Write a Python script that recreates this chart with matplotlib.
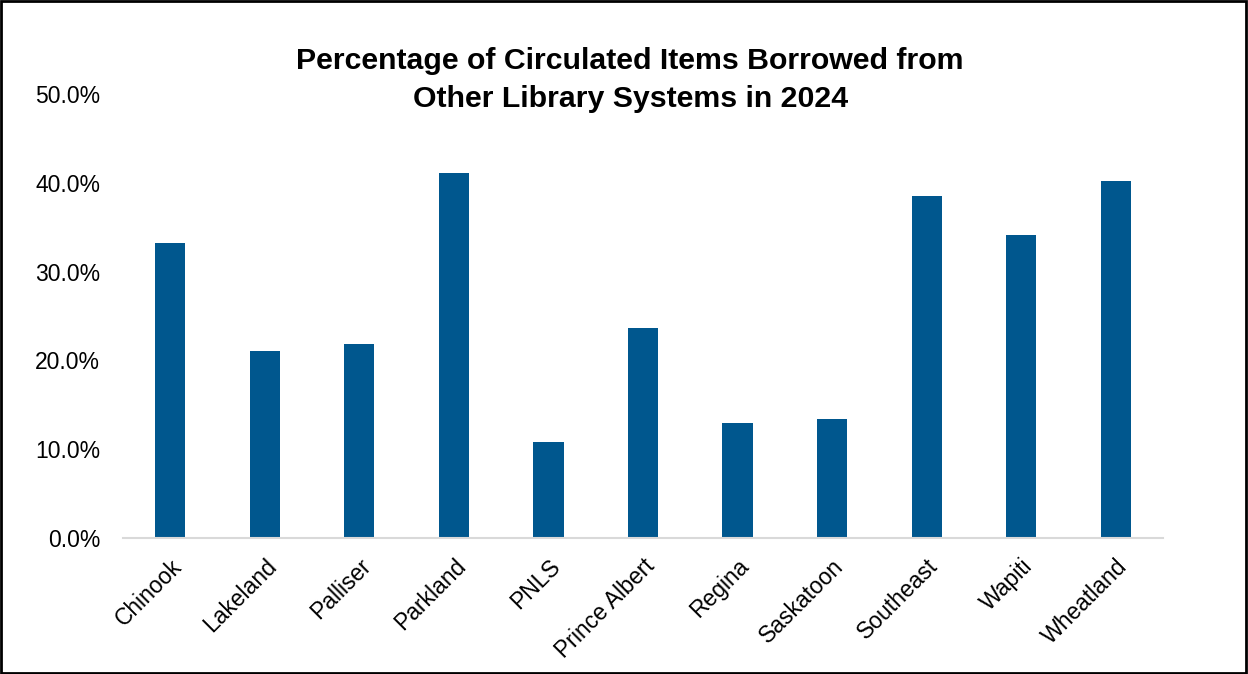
import matplotlib.pyplot as plt
from matplotlib.patches import Rectangle
from matplotlib.ticker import FuncFormatter

plt.rcParams['font.family'] = ['Liberation Sans', 'DejaVu Sans']

# Data
systems = ['Chinook', 'Lakeland', 'Palliser', 'Parkland', 'PNLS', 'Prince Albert',
           'Regina', 'Saskatoon', 'Southeast', 'Wapiti', 'Wheatland']
share = [0.332, 0.211, 0.218, 0.411, 0.108, 0.236, 0.130, 0.134, 0.385, 0.341, 0.402]
yticks = [0.0, 0.1, 0.2, 0.3, 0.4, 0.5]

fig = plt.figure(figsize=(12.48, 6.74), dpi=100)
ax = fig.add_axes([123 / 1248, 1 - 538 / 674, 1040 / 1248, 444 / 674])

ax.bar(range(len(systems)), share, width=0.32, color='#00578e')
ax.set_xlim(-0.5, len(systems) - 0.5)
ax.set_ylim(0, 0.5)

ax.set_yticks(yticks)
ax.yaxis.set_major_formatter(FuncFormatter(lambda v, p: f'{v * 100:.1f}%'))
ax.set_xticks(range(len(systems)))
ax.set_xticklabels(systems, rotation=45, ha='right', rotation_mode='anchor')
ax.tick_params(axis='both', length=0, labelsize=16.5, colors='black')
ax.tick_params(axis='x', pad=12)
ax.tick_params(axis='y', pad=16.5)

for side in ['top', 'right', 'left']:
    ax.spines[side].set_visible(False)
ax.spines['bottom'].set_color('#d9d9d9')
ax.spines['bottom'].set_linewidth(1.5)

fig.text(0.505, 0.931, 'Percentage of Circulated Items Borrowed from\nOther Library Systems in 2024',
         ha='center', va='top', fontsize=21.8, fontweight='bold', linespacing=1.48)

# black frame around the whole picture
fig.patches.append(Rectangle((0.001, 0.002), 0.997, 0.997, transform=fig.transFigure,
                             fill=False, edgecolor='black', linewidth=2))

fig.savefig('out.png', dpi=100)
